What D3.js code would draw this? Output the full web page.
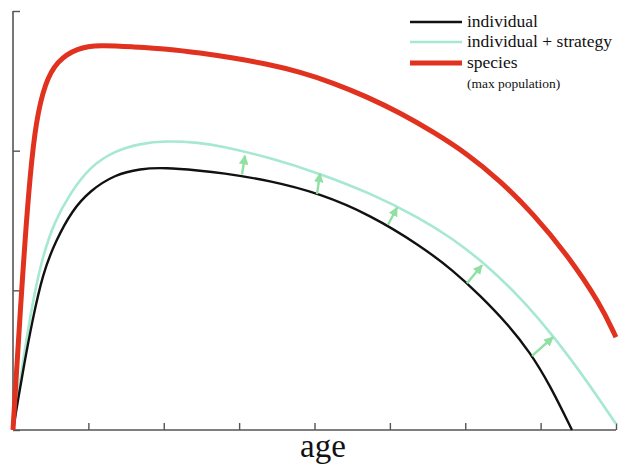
<!DOCTYPE html>
<html>
<head>
<meta charset="utf-8">
<script src="https://cdn.jsdelivr.net/npm/d3@7"></script>
<style>
  body { margin: 0; background: #fff; }
  svg { display: block; }
</style>
</head>
<body>
<script>
var w = 618;
var h = 468;
var serif = "Liberation Serif";

// values: age (0-8 tick units) and value (0-3 tick units)

var individual = [
  [0, 0], [0.066, 0.214], [0.146, 0.464], [0.252, 0.771], [0.398, 1.129],
  [0.57, 1.357], [0.783, 1.571], [1.022, 1.714], [1.353, 1.829], [1.685, 1.871],
  [2.017, 1.879], [2.481, 1.857], [2.746, 1.843], [3.41, 1.786], [4.073, 1.693],
  [4.736, 1.541], [5.4, 1.322], [5.837, 1.143], [6.196, 0.964], [6.554, 0.764],
  [6.859, 0.557], [7.124, 0.321], [7.416, 0]
];

var strategy = [
  [0, 0], [0.066, 0.25], [0.146, 0.536], [0.252, 0.893], [0.385, 1.229],
  [0.544, 1.486], [0.756, 1.693], [1.022, 1.886], [1.353, 2.0], [1.685, 2.05],
  [2.017, 2.071], [2.481, 2.057], [2.746, 2.036], [3.41, 1.95], [4.073, 1.836],
  [4.736, 1.697], [5.4, 1.518], [5.837, 1.369], [6.289, 1.179], [6.726, 0.952],
  [7.164, 0.676], [7.522, 0.418], [7.788, 0.213], [8, 0.043]
];

var species = [
  [0, 0], [0.04, 0.357], [0.093, 0.821], [0.159, 1.357], [0.226, 1.821],
  [0.305, 2.214], [0.425, 2.486], [0.584, 2.643], [0.849, 2.736], [1.154, 2.757],
  [1.592, 2.743], [2.043, 2.729], [2.481, 2.7], [2.919, 2.664], [3.37, 2.621],
  [3.808, 2.564], [4.246, 2.486], [4.697, 2.386], [5.135, 2.271], [5.572, 2.136],
  [6.023, 1.979], [6.461, 1.786], [6.899, 1.55], [7.35, 1.257], [7.788, 0.907],
  [8, 0.664]
];

// little arrows from the individual curve up to the strategy curve
var arrowFrom = [[3.038, 1.83], [4.033, 1.69], [4.975, 1.47], [6.023, 1.05], [6.886, 0.53]];
var arrowTo   = [[3.078, 1.964], [4.073, 1.836], [5.095, 1.593], [6.222, 1.18], [7.164, 0.664]];

var xTicks = [0, 1, 2, 3, 4, 5, 6, 7, 8];
var yTicks = [0, 1, 2, 3];

var legendNames = ["individual", "individual + strategy", "species"];
var legendNote = "(max population)";
var xLabel = "age";

var svg = d3.select("body").append("svg").attr("width", w).attr("height", h);

var x = d3.scaleLinear().domain([0, 8]).range([13, 616]);
var y = d3.scaleLinear().domain([0, 3]).range([430, 11]);

// axes - ticks point inwards

var axisColor = "#555";

var xAxis = svg.append("g")
  .attr("transform", "translate(0," + y(0) + ")")
  .call(d3.axisTop(x).tickValues(xTicks).tickSize(7).tickFormat(""));

var yAxis = svg.append("g")
  .attr("transform", "translate(" + x(0) + ",0)")
  .call(d3.axisRight(y).tickValues(yTicks).tickSize(7).tickFormat(""));

[xAxis, yAxis].forEach(function(a) {
  a.select(".domain").attr("stroke", axisColor).attr("stroke-width", 1.6);
  a.selectAll(".tick line").attr("stroke", axisColor).attr("stroke-width", 1.4);
});

xAxis.select(".domain").attr("d", "M" + x(0) + ",0H" + x(8));
yAxis.select(".domain").attr("d", "M0," + y(0) + "V" + y(3));

svg.append("text")
  .attr("x", 323)
  .attr("y", 457)
  .attr("text-anchor", "middle")
  .attr("font-family", serif)
  .attr("font-size", 33)
  .attr("fill", "#111")
  .text(xLabel);

// curves

var line = d3.line()
  .x(function(d) { return x(d[0]); })
  .y(function(d) { return y(d[1]); })
  .curve(d3.curveBasis);

var series = [
  { name: legendNames[1], data: strategy, color: "#a6e8d2", width: 2.6 },
  { name: legendNames[0], data: individual, color: "#111111", width: 2.4 },
  { name: legendNames[2], data: species, color: "#e0321f", width: 5 }
];

svg.selectAll(".curve")
  .data(series)
  .enter().append("path")
  .attr("class", "curve")
  .attr("d", function(d) { return line(d.data); })
  .attr("fill", "none")
  .attr("stroke", function(d) { return d.color; })
  .attr("stroke-width", function(d) { return d.width; });

// arrows

var arrowColor = "#8fe0a2";

svg.append("defs").append("marker")
  .attr("id", "head")
  .attr("viewBox", "0 0 10 10")
  .attr("refX", 9)
  .attr("refY", 5)
  .attr("markerWidth", 4)
  .attr("markerHeight", 4)
  .attr("markerUnits", "strokeWidth")
  .attr("orient", "auto")
  .append("path")
  .attr("d", "M0,0L10,5L0,10z")
  .attr("fill", arrowColor);

svg.selectAll(".arrow")
  .data(arrowFrom)
  .enter().append("line")
  .attr("class", "arrow")
  .attr("x1", function(d) { return x(d[0]); })
  .attr("y1", function(d) { return y(d[1]); })
  .attr("x2", function(d, i) { return x(arrowTo[i][0]); })
  .attr("y2", function(d, i) { return y(arrowTo[i][1]); })
  .attr("stroke", arrowColor)
  .attr("stroke-width", 2.4)
  .attr("marker-end", "url(#head)");

// legend (individual, strategy, species order)

var legend = svg.append("g").attr("class", "legend");
var legendOrder = [series[1], series[0], series[2]];
var rowY = [22, 42, 63];

legendOrder.forEach(function(r, i) {
  legend.append("line")
    .attr("x1", 410).attr("x2", 462)
    .attr("y1", rowY[i]).attr("y2", rowY[i])
    .attr("stroke", r.color)
    .attr("stroke-width", r.width);
  legend.append("text")
    .attr("x", 467)
    .attr("y", rowY[i] + 5)
    .attr("font-family", serif)
    .attr("font-size", 17.5)
    .attr("fill", "#111")
    .text(r.name);
});

legend.append("text")
  .attr("x", 467)
  .attr("y", 88)
  .attr("font-family", serif)
  .attr("font-size", 13.5)
  .attr("fill", "#111")
  .text(legendNote);
</script>
</body>
</html>
